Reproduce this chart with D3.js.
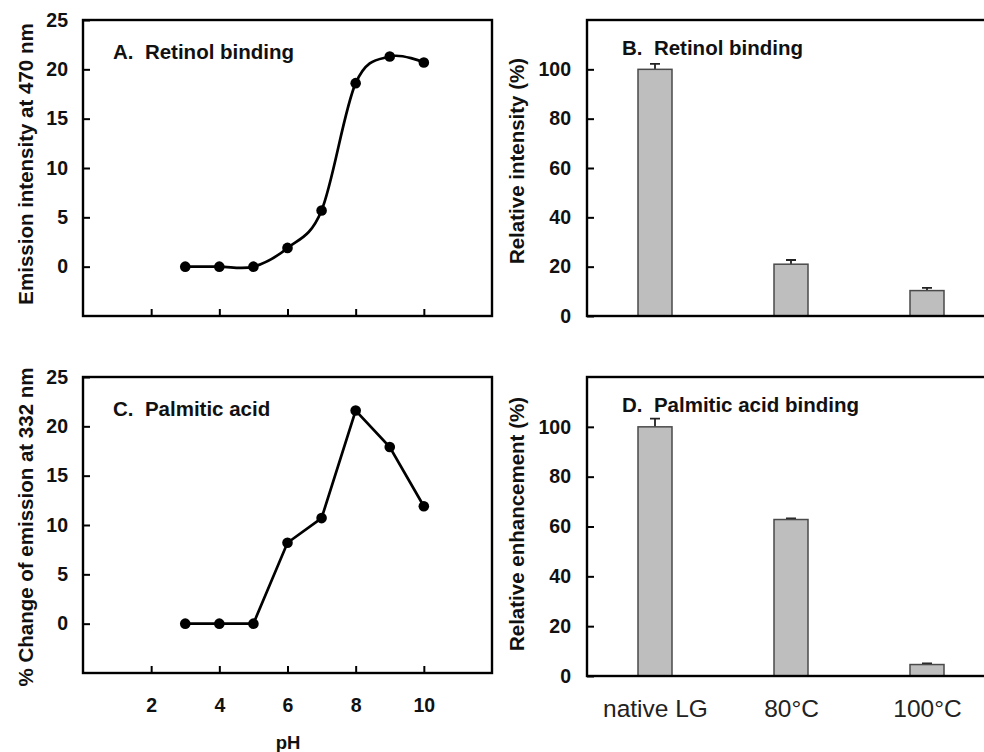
<!DOCTYPE html>
<html>
<head>
<meta charset="utf-8">
<script src="https://cdn.jsdelivr.net/npm/d3@7"></script>
<style>
  body { margin: 0; background: #fff; }
  svg { display: block; font-family: "Liberation Sans", Arial, sans-serif; }
</style>
</head>
<body>
<div id="chart"></div>
<script>
// pH series (panels A and C)
const phValues = [3, 4, 5, 6, 7, 8, 9, 10];
const retinolEmission = [0, 0, 0, 1.9, 5.7, 18.6, 21.3, 20.7];
const palmiticChange = [0, 0, 0, 8.2, 10.7, 21.6, 17.9, 11.9];

// heat treatment series (panels B and D)
const treatments = ["native LG", "80°C", "100°C"];
const retinolRelative = [100, 21.0, 10.3];
const retinolErr = [2.2, 1.7, 1.1];
const palmiticRelative = [100, 62.8, 4.6];
const palmiticErr = [3.3, 0.5, 0.5];

// tick labels
const phTicks = [2, 4, 6, 8, 10];
const emissionTicks = [0, 5, 10, 15, 20, 25];
const percentTicks = [0, 20, 40, 60, 80, 100];

const width = 984, height = 752;

const svg = d3.select("#chart").append("svg")
    .attr("width", width)
    .attr("height", height)
    .attr("viewBox", [0, 0, width, height]);

function linePanel({x0, x1, y0, y1, values, smooth, title, yLabel, labelX, labelY, showXLabels}) {
    const x = d3.scaleLinear([0, 12], [x0, x1]);
    const y = d3.scaleLinear([-5, 25], [y1, y0]);
    const g = svg.append("g");

    // y axis, inward ticks
    g.append("g")
        .attr("transform", `translate(${x0},0)`)
        .call(d3.axisLeft(y).tickValues(emissionTicks).tickSize(-7).tickPadding(15))
        .call(a => a.select(".domain").remove())
        .call(a => a.selectAll("line").attr("stroke", "#000").attr("stroke-width", 2))
        .call(a => a.selectAll("text").attr("font-size", 19.5).attr("font-weight", "bold").attr("fill", "#111"));

    // x axis, inward ticks
    g.append("g")
        .attr("transform", `translate(0,${y1})`)
        .call(d3.axisBottom(x).tickValues(phTicks).tickSize(-7).tickPadding(25)
            .tickFormat(showXLabels ? d3.format("d") : () => ""))
        .call(a => a.select(".domain").remove())
        .call(a => a.selectAll("line").attr("stroke", "#000").attr("stroke-width", 2))
        .call(a => a.selectAll("text").attr("font-size", 19.5).attr("font-weight", "bold").attr("fill", "#111"));

    g.append("rect")
        .attr("x", x0).attr("y", y0)
        .attr("width", x1 - x0).attr("height", y1 - y0)
        .attr("fill", "none").attr("stroke", "#000").attr("stroke-width", 2.4);

    const line = d3.line()
        .x((d, i) => x(phValues[i]))
        .y(d => y(d))
        .curve(smooth ? d3.curveCardinal : d3.curveLinear);

    g.append("path")
        .datum(values)
        .attr("d", line)
        .attr("fill", "none")
        .attr("stroke", "#000")
        .attr("stroke-width", 2.7);

    g.append("g")
        .selectAll("circle")
        .data(values)
        .join("circle")
        .attr("cx", (d, i) => x(phValues[i]))
        .attr("cy", d => y(d))
        .attr("r", 5.3)
        .attr("fill", "#000");

    g.append("text")
        .attr("x", x0 + 30).attr("y", y0 + 39)
        .style("white-space", "pre")
        .attr("font-size", 20.5).attr("font-weight", "bold").attr("fill", "#111")
        .text(title);

    g.append("text")
        .attr("transform", `translate(${labelX},${labelY}) rotate(-90)`)
        .attr("text-anchor", "middle")
        .attr("font-size", 20.5).attr("font-weight", "bold").attr("fill", "#111")
        .text(yLabel);
}

function barPanel({x0, x1, y0, y1, values, errors, title, titleY, yLabel, labelX, labelY, showXLabels}) {
    const x = d3.scalePoint(treatments, [x0, x1]).padding(0.5);
    const y = d3.scaleLinear([0, 120], [y1, y0]);
    const barW = 34, capW = 10;
    const g = svg.append("g");

    g.append("g")
        .attr("transform", `translate(${x0},0)`)
        .call(d3.axisLeft(y).tickValues(percentTicks).tickSize(-7).tickPadding(16))
        .call(a => a.select(".domain").remove())
        .call(a => a.selectAll("line").attr("stroke", "#000").attr("stroke-width", 2))
        .call(a => a.selectAll("text").attr("font-size", 19.5).attr("font-weight", "bold").attr("fill", "#111"));

    const xAxis = g.append("g")
        .attr("transform", `translate(0,${y1})`)
        .call(d3.axisBottom(x).tickSize(0).tickPadding(24))
        .call(a => a.select(".domain").remove())
        .call(a => a.selectAll("text").attr("font-size", 24.5).attr("fill", "#222"));
    if (!showXLabels) xAxis.selectAll("text").remove();

    // error bars (upper half only)
    g.append("g")
        .selectAll("path")
        .data(values)
        .join("path")
        .attr("d", (d, i) => {
            const cx = x(treatments[i]);
            const top = y(d + errors[i]);
            return `M${cx},${y(d)}V${top}M${cx - capW / 2},${top}H${cx + capW / 2}`;
        })
        .attr("stroke", "#222")
        .attr("stroke-width", 1.8)
        .attr("fill", "none");

    g.append("g")
        .selectAll("rect")
        .data(values)
        .join("rect")
        .attr("x", (d, i) => x(treatments[i]) - barW / 2)
        .attr("y", d => y(d))
        .attr("width", barW)
        .attr("height", d => y1 - y(d))
        .attr("fill", "#bebebe")
        .attr("stroke", "#4a4a4a")
        .attr("stroke-width", 1.5);

    g.append("rect")
        .attr("x", x0).attr("y", y0)
        .attr("width", x1 - x0).attr("height", y1 - y0)
        .attr("fill", "none").attr("stroke", "#000").attr("stroke-width", 2.4);

    g.append("text")
        .attr("x", x0 + 35).attr("y", titleY)
        .style("white-space", "pre")
        .attr("font-size", 20.5).attr("font-weight", "bold").attr("fill", "#111")
        .text(title);

    g.append("text")
        .attr("transform", `translate(${labelX},${labelY}) rotate(-90)`)
        .attr("text-anchor", "middle")
        .attr("font-size", 20.5).attr("font-weight", "bold").attr("fill", "#111")
        .text(yLabel);
}

linePanel({
    x0: 83, x1: 492, y0: 20, y1: 316,
    values: retinolEmission, smooth: true,
    title: "A.  Retinol binding",
    yLabel: "Emission intensity at 470 nm",
    labelX: 33, labelY: 164, showXLabels: false
});

linePanel({
    x0: 83, x1: 492, y0: 377, y1: 673,
    values: palmiticChange, smooth: false,
    title: "C.  Palmitic acid",
    yLabel: "% Change of emission at 332 nm",
    labelX: 33, labelY: 527, showXLabels: true
});

barPanel({
    x0: 587, x1: 995, y0: 20, y1: 316,
    values: retinolRelative, errors: retinolErr,
    title: "B.  Retinol binding", titleY: 55,
    yLabel: "Relative intensity (%)",
    labelX: 524, labelY: 161, showXLabels: false
});

barPanel({
    x0: 587, x1: 995, y0: 377, y1: 676,
    values: palmiticRelative, errors: palmiticErr,
    title: "D.  Palmitic acid binding", titleY: 412,
    yLabel: "Relative enhancement (%)",
    labelX: 524, labelY: 524, showXLabels: true
});

svg.append("text")
    .attr("x", 288).attr("y", 749)
    .attr("text-anchor", "middle")
    .attr("font-size", 18.5).attr("font-weight", "bold").attr("fill", "#111")
    .text("pH");
</script>
</body>
</html>
